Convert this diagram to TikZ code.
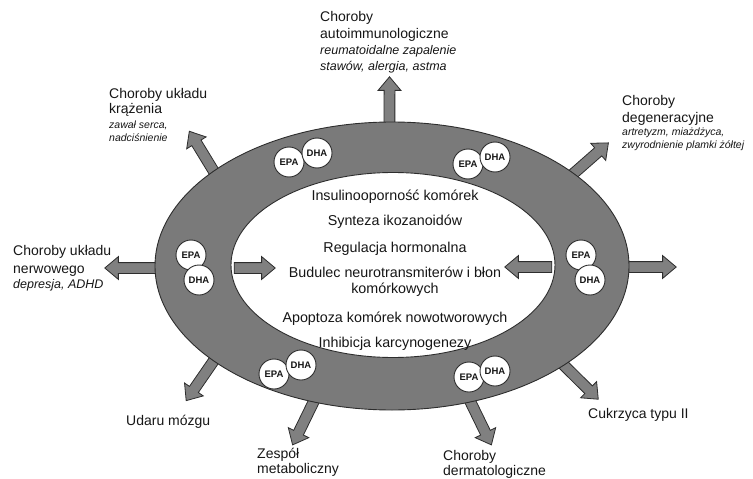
\documentclass[tikz,border=0pt]{standalone}
\usepackage{fontspec}
\setmainfont{Liberation Sans}
\usetikzlibrary{shapes.geometric,shapes.arrows,positioning,calc,backgrounds}

\definecolor{ringgray}{RGB}{122,122,122}
\definecolor{arrgray}{RGB}{128,128,128}
\definecolor{edge}{RGB}{45,45,45}
\definecolor{ink}{RGB}{22,22,22}

% fat arrow node from #2 to #3, named #1
\newcommand\fatarrow[3]{%
  \path let \p1=($(#3)-(#2)$) in
    node[fatarr, rotate={atan2(\y1,\x1)}, minimum height={veclen(\x1,\y1)}]
      (#1) at ($(#2)!0.5!(#3)$) {};}

\begin{document}
\begin{tikzpicture}[x=1pt, y=-1pt,
    ringbody/.style={ellipse, draw=edge, line width=0.9pt, fill=ringgray, inner sep=0pt, outer sep=0pt},
    fatarr/.style={single arrow, draw=edge, fill=arrgray, line width=0.8pt,
      inner xsep=0pt, inner ysep=5pt, single arrow head extend=6pt,
      single arrow tip angle=80, single arrow head indent=0pt},
    fa/.style={circle, draw=edge, fill=white, line width=0.9pt, minimum size=30pt,
      inner sep=0pt, text=ink, font=\fontsize{9.5}{10}\selectfont\bfseries},
    ttl/.style={anchor=north west, inner sep=0pt, align=left, text=ink,
      font=\fontsize{14}{17}\selectfont},
    sub/.style={anchor=north west, inner sep=0pt, align=left, text=ink,
      font=\fontsize{12.5}{15.5}\selectfont\itshape},
    subsm/.style={sub, font=\fontsize{10.5}{13}\selectfont\itshape},
    mid/.style={anchor=base, inner sep=0pt, align=center, text=ink,
      font=\fontsize{14.3}{16}\selectfont}]
  \useasboundingbox (0,0) rectangle (753,479);

  % the ring and its hole
  \node[ringbody, minimum width=474pt, minimum height=288pt] (ring) at (392,266) {};
  \node[ringbody, fill=white, minimum width=324pt, minimum height=185pt] (core) at (393,265) {};

  % arrow tips
  \coordinate (tAuto) at (389.5,80);
  \coordinate (tKraz) at (191,134);
  \coordinate (tDeg) at (606,145);
  \coordinate (tNerw) at (108,268);
  \coordinate (tRight) at (673,267);
  \coordinate (tUdar) at (188,398);
  \coordinate (tZesp) at (294,442);
  \coordinate (tDerm) at (490,442);
  \coordinate (tCukr) at (596,397);
  \coordinate (tInL) at (272,268);
  \coordinate (tInR) at (508,267);

  % tails start a little inside the ring
  \coordinate (bAuto) at ($(ring.91)!-8pt!(tAuto)$);
  \coordinate (bKraz) at ($(ring.152)!-8pt!(tKraz)$);
  \coordinate (bDeg) at ($(ring.27)!-8pt!(tDeg)$);
  \coordinate (bNerw) at ($(ring.west |- tNerw)+(8,0)$);
  \coordinate (bRight) at ($(ring.east |- tRight)+(-8,0)$);
  \coordinate (bUdar) at ($(ring.208.5)!-8pt!(tUdar)$);
  \coordinate (bZesp) at ($(ring.240)!-8pt!(tZesp)$);
  \coordinate (bDerm) at ($(ring.300.5)!-8pt!(tDerm)$);
  \coordinate (bCukr) at ($(ring.330)!-8pt!(tCukr)$);

  \begin{scope}[on background layer]
    \fatarrow{aAuto}{bAuto}{tAuto}
    \fatarrow{aKraz}{bKraz}{tKraz}
    \fatarrow{aDeg}{bDeg}{tDeg}
    \fatarrow{aNerw}{bNerw}{tNerw}
    \fatarrow{aRight}{bRight}{tRight}
    \fatarrow{aUdar}{bUdar}{tUdar}
    \fatarrow{aZesp}{bZesp}{tZesp}
    \fatarrow{aDerm}{bDerm}{tDerm}
    \fatarrow{aCukr}{bCukr}{tCukr}
  \end{scope}

  % the two arrows pointing into the hole
  \fatarrow{aInL}{core.west |- tInL}{tInL}
  \fatarrow{aInR}{core.east |- tInR}{tInR}

  % EPA / DHA pairs on the ring
  \node[fa] (epa1) at (289,162) {EPA};
  \node[fa] (dha1) at (317,153) {DHA};
  \node[fa] (epa2) at (468,164) {EPA};
  \node[fa] (dha2) at (495,157) {DHA};
  \node[fa] (epa3) at (191,255) {EPA};
  \node[fa] (dha3) at (199,280) {DHA};
  \node[fa] (epa4) at (581,255) {EPA};
  \node[fa] (dha4) at (590,280) {DHA};
  \node[fa] (epa5) at (274,374) {EPA};
  \node[fa] (dha5) at (301,365) {DHA};
  \node[fa] (epa6) at (469,377) {EPA};
  \node[fa] (dha6) at (495,371) {DHA};

  % text inside the hole
  \node[mid] (insul) at (395,200) {Insulinooporność komórek};
  \node[mid] (synt) at (395,225) {Synteza ikozanoidów};
  \node[mid] (regul) at (395,252) {Regulacja hormonalna};
  \node[mid, anchor=north] (budul) at (395,267) {Budulec neurotransmiterów i błon\\komórkowych};
  \node[mid] (apopt) at (395,322) {Apoptoza komórek nowotworowych};
  \node[mid] (inhib) at (395,347) {Inhibicja karcynogenezy};

  % disease labels
  \node[ttl] (autoT) at (320,11) {Choroby\\autoimmunologiczne};
  \node[sub, below=4pt of autoT.south west, anchor=north west] (autoI) {reumatoidalne zapalenie\\stawów, alergia, astma};
  \node[ttl, font=\fontsize{14}{15}\selectfont] (krazT) at (109,88) {Choroby układu\\krążenia};
  \node[subsm, below=4pt of krazT.south west, anchor=north west] (krazI) {zawał serca,\\nadciśnienie};
  \node[ttl] (degT) at (622,95) {Choroby\\degeneracyjne};
  \node[subsm, below=2pt of degT.south west, anchor=north west] (degI) {artretyzm, miażdżyca,\\zwyrodnienie plamki żółtej};
  \node[ttl, font=\fontsize{14}{18}\selectfont] (nerwT) at (13,245) {Choroby układu\\nerwowego};
  \node[sub, below=3pt of nerwT.south west, anchor=north west] (nerwI) {depresja, ADHD};
  \node[ttl] (udar) at (126,415) {Udaru mózgu};
  \node[ttl, font=\fontsize{14}{15}\selectfont] (zesp) at (257,448) {Zespół\\metaboliczny};
  \node[ttl, font=\fontsize{14}{15}\selectfont] (derm) at (443,450) {Choroby\\dermatologiczne};
  \node[ttl] (cukr) at (588,408) {Cukrzyca typu II};
\end{tikzpicture}
\end{document}
